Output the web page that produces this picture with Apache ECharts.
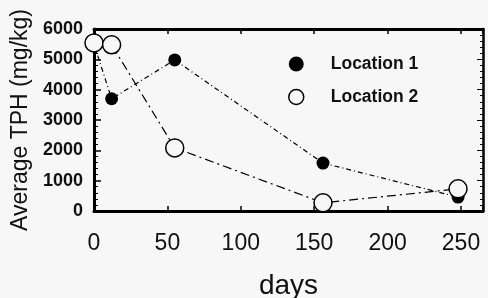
<!DOCTYPE html>
<html>
<head>
<meta charset="utf-8">
<script src="https://cdn.jsdelivr.net/npm/echarts@6/dist/echarts.min.js"></script>
<style>
  html, body { margin: 0; padding: 0; background: #f7f7f7; }
  #chart { width: 488px; height: 298px; }
</style>
</head>
<body>
<div id="chart"></div>
<script>
// data
var days = [0, 12, 55, 156, 248];
var location1 = [5500, 3700, 4980, 1580, 460];
var location2 = [5540, 5480, 2080, 270, 730];
var yTicks = [0, 1000, 2000, 3000, 4000, 5000, 6000];
var xTicks = [0, 50, 100, 150, 200, 250];

var pairs = function (xs, ys) {
    return xs.map(function (x, i) { return [x, ys[i]]; });
};

var chart = echarts.init(document.getElementById('chart'));
var font = 'Liberation Sans, Arial, sans-serif';

chart.setOption({
    backgroundColor: '#f7f7f7',
    animation: false,
    grid: { left: 94, right: 5, top: 29, bottom: 87, outerBoundsMode: 'none' },
    legend: {
        left: 283, top: 50, orient: 'vertical', itemGap: 15,
        itemWidth: 15, itemHeight: 15,
        textStyle: { fontFamily: font, fontSize: 17.5, fontWeight: 'bold', color: '#111', padding: [0, 0, 0, 22] },
        data: [
            { name: 'Location 1', icon: 'circle', itemStyle: { color: '#000', borderWidth: 0 } },
            { name: 'Location 2', icon: 'circle', itemStyle: { color: '#f7f7f7', borderColor: '#000', borderWidth: 1.5 } }
        ]
    },
    xAxis: [{
        type: 'value', min: 0, max: 265, interval: 50,
        name: 'days', nameLocation: 'middle', nameGap: 61,
        nameTextStyle: { fontFamily: font, fontSize: 28, color: '#111' },
        axisLine: { onZero: false, lineStyle: { color: '#000', width: 3 } },
        axisTick: { inside: true, length: 5, lineStyle: { color: '#000', width: 1.5 } },
        axisLabel: {
            margin: 21, fontFamily: font, fontSize: 23, color: '#111',
            formatter: function (v) { return xTicks.indexOf(v) >= 0 ? String(v) : ''; }
        },
        splitLine: { show: false }
    }, {
        type: 'value', position: 'top', min: 0, max: 265, interval: 50,
        axisLine: { onZero: false, lineStyle: { color: '#000', width: 3 } },
        axisTick: { inside: true, length: 5, lineStyle: { color: '#000', width: 1.5 } },
        axisLabel: { show: false },
        splitLine: { show: false }
    }],
    yAxis: [{
        type: 'value', min: 0, max: 6000, interval: 1000,
        name: 'Average TPH (mg/kg)', nameLocation: 'middle', nameGap: 59,
        nameTextStyle: { fontFamily: font, fontSize: 23, color: '#111' },
        axisLine: { onZero: false, lineStyle: { color: '#000', width: 3 } },
        axisTick: { inside: true, length: 7, lineStyle: { color: '#000', width: 1.5 } },
        minorTick: { show: true, splitNumber: 5, length: 4, lineStyle: { color: '#000' } },
        axisLabel: {
            margin: 11, fontFamily: font, fontSize: 18, fontWeight: 'bold', color: '#111',
            formatter: function (v) { return yTicks.indexOf(v) >= 0 ? String(v) : ''; }
        },
        splitLine: { show: false }
    }, {
        type: 'value', position: 'right', min: 0, max: 6000, interval: 1000,
        axisLine: { onZero: false, lineStyle: { color: '#000', width: 2.5 } },
        axisTick: { inside: true, length: 6, lineStyle: { color: '#000' } },
        minorTick: { show: true, splitNumber: 5, length: 3, lineStyle: { color: '#000' } },
        axisLabel: { show: false },
        splitLine: { show: false }
    }],
    series: [{
        name: 'Location 1', type: 'line',
        data: pairs(days, location1),
        symbol: 'circle', symbolSize: 13,
        itemStyle: { color: '#000' },
        lineStyle: { color: '#000', width: 1.2, type: [5, 3, 1, 3] },
        z: 3
    }, {
        name: 'Location 2', type: 'line',
        data: pairs(days, location2),
        symbol: 'circle', symbolSize: 18,
        itemStyle: { color: '#f7f7f7', borderColor: '#000', borderWidth: 1.5 },
        lineStyle: { color: '#000', width: 1.2, type: [9, 4, 2, 4] },
        z: 4
    }]
});
</script>
</body>
</html>
